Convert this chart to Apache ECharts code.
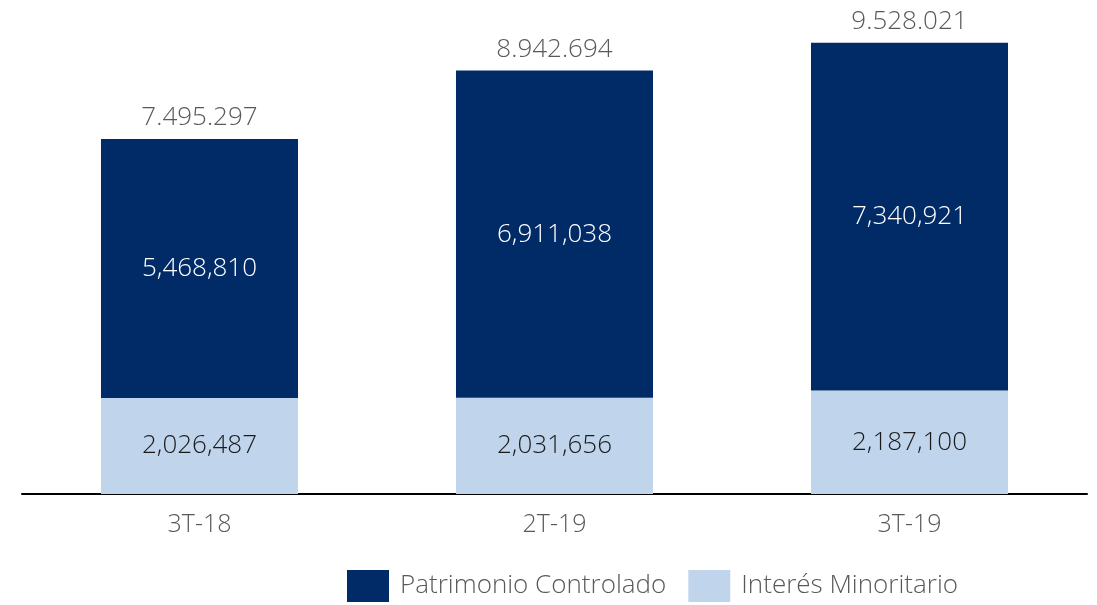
<!DOCTYPE html>
<html>
<head>
<meta charset="utf-8">
<script src="https://cdn.jsdelivr.net/npm/echarts@6/dist/echarts.min.js"></script>
<style>
  html, body { margin: 0; padding: 0; background: #ffffff; }
  #chart { width: 1097px; height: 605px; }
</style>
</head>
<body>
<div id="chart"></div>
<script>
// Periods on the category axis
const categories = ['3T-18', '2T-19', '3T-19'];
// Stacked components
const interesMinoritario = [2026487, 2031656, 2187100];
const patrimonioControlado = [5468810, 6911038, 7340921];
// Totals shown above each column
const totals = categories.map((_, i) => interesMinoritario[i] + patrimonioControlado[i]);

const FONT = "'Open Sans', 'Noto Sans', sans-serif";
const NAVY = '#002B67';
const LIGHT = '#C0D4EC';
const GREY = '#595959';

const fmtComma = v => v.toLocaleString('en-US');
const fmtDot = v => v.toLocaleString('en-US').replace(/,/g, '.');

const chart = echarts.init(document.getElementById('chart'), null, { renderer: 'canvas' });

chart.setOption({
  animation: false,
  grid: { left: 22, right: 10, top: 20.4, bottom: 111, containLabel: false },
  legend: {
    left: 347,
    top: 570,
    padding: 0,
    itemWidth: 42,
    itemHeight: 32,
    itemGap: 22,
    icon: 'rect',
    textStyle: { fontFamily: FONT, fontWeight: 300, fontSize: 26, color: GREY, padding: [3, 0, 0, 6] },
    data: ['Patrimonio Controlado', 'Interés Minoritario']
  },
  xAxis: {
    type: 'category',
    data: categories,
    axisLine: { lineStyle: { color: '#000000', width: 2 } },
    axisTick: { show: false },
    axisLabel: { fontFamily: FONT, fontWeight: 300, fontSize: 25, color: GREY, margin: 18 }
  },
  yAxis: {
    type: 'value',
    min: 0,
    max: 10000000,
    show: false,
    splitLine: { show: false }
  },
  series: [
    {
      name: 'Interés Minoritario',
      type: 'bar',
      stack: 'total',
      barWidth: '55.5%',
      data: interesMinoritario,
      itemStyle: { color: LIGHT },
      label: {
        show: true,
        position: 'inside',
        formatter: p => fmtComma(p.value),
        fontFamily: FONT, fontWeight: 300, fontSize: 26, color: '#1a1a1a'
      }
    },
    {
      name: 'Patrimonio Controlado',
      type: 'bar',
      stack: 'total',
      data: patrimonioControlado,
      itemStyle: { color: NAVY },
      label: {
        show: true,
        position: 'inside',
        formatter: p => fmtComma(p.value),
        fontFamily: FONT, fontWeight: 300, fontSize: 26, color: '#ffffff'
      }
    },
    {
      // Invisible carrier for the total labels above each column
      name: 'Total',
      type: 'line',
      data: totals,
      symbol: 'circle',
      symbolSize: 2,
      showSymbol: true,
      itemStyle: { color: 'rgba(0,0,0,0)' },
      lineStyle: { color: 'rgba(0,0,0,0)', width: 0 },
      silent: true,
      z: 10,
      label: {
        show: true,
        position: 'top',
        distance: 7,
        formatter: p => fmtDot(p.value),
        fontFamily: FONT, fontWeight: 300, fontSize: 26, color: GREY
      }
    }
  ]
});
</script>
</body>
</html>
